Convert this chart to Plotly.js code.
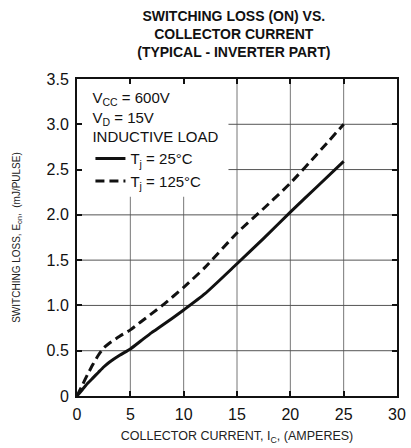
<!DOCTYPE html>
<html>
<head>
<meta charset="utf-8">
<script src="https://cdn.plot.ly/plotly-3.0.1.min.js"></script>
<style>html,body{margin:0;padding:0;background:#fff;}#chart{width:411px;height:448px;}</style>
</head>
<body>
<div id="chart"></div>
<script>
// Collector current, I_C (A)
const currentA = [0, 0.5, 1, 1.5, 2, 2.5, 3, 4, 5, 6, 7, 8, 10, 12, 15, 17.5, 20, 22.5, 25];
// Switching loss E_on (mJ/pulse), Tj = 25°C
const eon25 = [0, 0.07, 0.14, 0.2, 0.26, 0.32, 0.37, 0.45, 0.52, 0.61, 0.70, 0.78, 0.95, 1.13, 1.46, 1.74, 2.03, 2.31, 2.59];
// Switching loss E_on (mJ/pulse), Tj = 125°C
const eon125 = [0, 0.12, 0.24, 0.35, 0.45, 0.53, 0.58, 0.66, 0.73, 0.82, 0.91, 1.0, 1.2, 1.42, 1.8, 2.07, 2.35, 2.67, 3.0];
const seriesNames = ['T<sub>j</sub> = 25°C', 'T<sub>j</sub> = 125°C'];
const xTicks = [0, 5, 10, 15, 20, 25, 30];
const yTicks = [0, 0.5, 1, 1.5, 2, 2.5, 3, 3.5];
const yTickText = ['0', '0.5', '1.0', '1.5', '2.0', '2.5', '3.0', '3.5'];
const titleLines = ['SWITCHING LOSS (ON) VS.', 'COLLECTOR CURRENT', '(TYPICAL - INVERTER PART)'];
const conditionLines = ['V<sub>CC</sub> = 600V', 'V<sub>D</sub> = 15V', 'INDUCTIVE LOAD'];
const xTitle = 'COLLECTOR CURRENT, I<sub>C</sub>, (AMPERES)';
const yTitle = 'SWITCHING LOSS, E<sub>on</sub>,  (mJ/PULSE)';

const FONT = 'Liberation Sans, Arial, Helvetica, sans-serif';
const X_RANGE = [0, 30];
const Y_RANGE = [0, 3.5];

const traces = [
  {x: currentA, y: eon25, name: seriesNames[0], type: 'scatter', mode: 'lines',
   line: {color: '#111', width: 3, shape: 'spline', smoothing: 0.6}},
  {x: currentA, y: eon125, name: seriesNames[1], type: 'scatter', mode: 'lines',
   line: {color: '#111', width: 3, dash: '9px,5px', shape: 'spline', smoothing: 0.6}}
];

const axisCommon = {
  showline: true, linecolor: '#111', linewidth: 2, mirror: 'ticks',
  ticks: 'inside', ticklen: 5, tickwidth: 2, tickcolor: '#111',
  showgrid: false, zeroline: false,
  ticklabelstandoff: 3, tickfont: {family: FONT, size: 16, color: '#111'}
};

// grid lines built from the tick arrays (drawn as shapes so they always render)
const gridShapes = [];
xTicks.slice(1, -1).forEach(v => gridShapes.push({type: 'line', xref: 'x', yref: 'y',
  x0: v, x1: v, y0: Y_RANGE[0], y1: Y_RANGE[1], line: {color: '#777', width: 1}, layer: 'between'}));
yTicks.slice(1, -1).forEach(v => gridShapes.push({type: 'line', xref: 'x', yref: 'y',
  x0: X_RANGE[0], x1: X_RANGE[1], y0: v, y1: v, line: {color: '#555', width: 1}, layer: 'between'}));
// white panel behind the condition/legend text
gridShapes.push({type: 'rect', xref: 'x', yref: 'y', x0: 0.1, x1: 14.2, y0: 2.2, y1: 3.49,
  fillcolor: '#fff', line: {width: 0}, layer: 'between'});

const layout = {
  width: 411, height: 448,
  margin: {l: 77, r: 14, t: 79, b: 52},
  title: {text: '<b>' + titleLines.join('<br>') + '</b>', xref: 'paper', x: 0.49, xanchor: 'center',
    yref: 'container', y: 1 - 21 / 448, yanchor: 'middle',
    font: {family: FONT, size: 14, color: '#111'}},
  xaxis: Object.assign({}, axisCommon, {range: X_RANGE, tickvals: xTicks, ticktext: xTicks.map(String),
    title: {text: xTitle, standoff: 9, font: {family: FONT, size: 12.5, color: '#222'}}}),
  yaxis: Object.assign({}, axisCommon, {range: Y_RANGE, tickvals: yTicks, ticktext: yTickText,
    title: {text: yTitle, standoff: 24, font: {family: FONT, size: 10, color: '#222'}}}),
  showlegend: true,
  legend: {x: 0.042, y: 0.985, bgcolor: 'rgba(0,0,0,0)', font: {family: FONT, size: 15},
    title: {text: conditionLines.join('<br>'), side: 'top', font: {family: FONT, size: 15}}},
  shapes: gridShapes,
  paper_bgcolor: '#fff', plot_bgcolor: '#fff', font: {family: FONT, color: '#111'}
};

Plotly.newPlot('chart', traces, layout, {displayModeBar: false, staticPlot: true});
</script>
</body>
</html>
